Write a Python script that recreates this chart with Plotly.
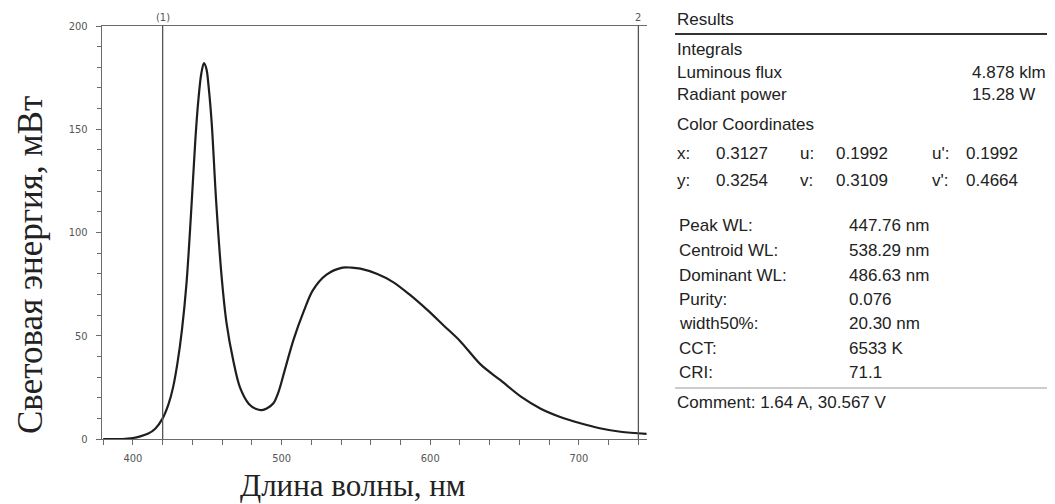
import plotly.graph_objects as go

# ---------------- data ----------------
wavelength_nm = [380, 393, 400, 405, 410, 415, 420, 424, 427, 430, 433, 436, 439, 442, 444, 446,
                 447.8, 449.5, 451, 453, 456, 459.5, 463, 467.5, 472, 478, 483, 486.6, 490, 494.5,
                 498, 502, 508, 515, 521, 530, 541, 547, 553, 564, 575, 586, 598, 609, 620, 634,
                 647, 661, 674, 687, 701, 714, 728, 745.5]
energy_mW = [0, 0, 0.5, 1.3, 2.5, 5, 10, 17, 25, 37, 53, 75, 108, 145, 164, 177,
             182, 179, 170, 153, 115, 80, 56, 38, 25, 17, 14.5, 14, 14.8, 17.3,
             23, 33, 48, 62, 72, 79.5, 83, 83, 82.5, 80, 76, 70, 62.5, 55, 47.5, 36,
             28.6, 20.5, 14.8, 10.8, 7.6, 5.2, 3.5, 2.5]

x_range = [379.2, 745.8]
y_range = [0, 200]
marker_lines_nm = [420, 740]
marker_labels = ["(1)", "2"]

x_title = "Длина волны, нм"
y_title = "Световая энергия, мВт"

results_title = "Results"
integral_header = "Integrals"
integral_labels = ["Luminous flux", "Radiant power"]
integral_values = ["4.878 klm", "15.28 W"]
coord_header = "Color Coordinates"
coord_row1 = ["x:", "0.3127", "u:", "0.1992", "u':", "0.1992"]
coord_row2 = ["y:", "0.3254", "v:", "0.3109", "v':", "0.4664"]
param_labels = ["Peak WL:", "Centroid WL:", "Dominant WL:", "Purity:", "width50%:", "CCT:", "CRI:"]
param_values = ["447.76 nm", "538.29 nm", "486.63 nm", "0.076", "20.30 nm", "6533 K", "71.1"]
comment_text = "Comment: 1.64 A, 30.567 V"

# ---------------- geometry (screen pixels) ----------------
W, H = 1055, 504
BODY = 8  # default page margin around the plot div
PL, PR, PT, PB = 102, 647, 26, 439


def px(x):
    return (x - PL) / (PR - PL)


def py(y):
    return (PB - y) / (PB - PT)


TICK_FONT = dict(family="Liberation Sans Narrow, DejaVu Sans Condensed, Arial Narrow, sans-serif",
                 size=11, color="#555")
PANEL_FONT = dict(family="Liberation Sans, Arial, sans-serif", size=17, color="#222")
SERIF = "Liberation Serif, Times New Roman, serif"
AX = "#6a6a6a"

fig = go.Figure()
fig.add_trace(go.Scatter(x=wavelength_nm, y=energy_mW, mode="lines",
                         line=dict(color="#1e1e1e", width=2.2, shape="spline", smoothing=0.9),
                         hoverinfo="skip", showlegend=False))

for xv in marker_lines_nm:
    fig.add_shape(type="line", xref="x", yref="y", x0=xv, x1=xv, y0=0, y1=200,
                  line=dict(color="#555", width=1.3))

annotations = []
for xv, lab in zip(marker_lines_nm, marker_labels):
    annotations.append(dict(x=xv, y=1, xref="x", yref="paper", text=lab, showarrow=False,
                            xanchor="center", yanchor="bottom", yshift=0, font=TICK_FONT))

# axis titles
annotations.append(dict(x=px(352), y=py(485), xref="paper", yref="paper", text=x_title,
                        showarrow=False, xanchor="center", yanchor="middle",
                        font=dict(family=SERIF, size=31, color="#222")))
annotations.append(dict(x=px(30), y=py(265), xref="paper", yref="paper", text=y_title,
                        showarrow=False, xanchor="center", yanchor="middle", textangle=-90,
                        font=dict(family=SERIF, size=35, color="#222")))


def txt(x, y, s):
    annotations.append(dict(x=px(x), y=py(y), xref="paper", yref="paper", text=s,
                            showarrow=False, xanchor="left", yanchor="middle", font=PANEL_FONT))


LX = 675
txt(LX, 19, results_title)
txt(LX, 49, integral_header)
for lab, val, yy in zip(integral_labels, integral_values, [72, 95]):
    txt(LX, yy, lab)
    txt(970, yy, val)
txt(LX, 124, coord_header)
col_x = [675, 714, 798, 834, 930, 964]
for row, yy in ((coord_row1, 153), (coord_row2, 180)):
    for cx, s in zip(col_x, row):
        txt(cx, yy, s)
row_y = [225, 250, 275, 299, 323, 348, 372]
for lab, val, yy in zip(param_labels, param_values, row_y):
    txt(677, yy, lab)
    txt(847, yy, val)
txt(LX, 402, comment_text)

fig.add_shape(type="line", xref="paper", yref="paper", x0=px(675), x1=px(1055), y0=py(34), y1=py(34),
              line=dict(color="#333", width=2))
fig.add_shape(type="line", xref="paper", yref="paper", x0=px(675), x1=px(1055), y0=py(388), y1=py(388),
              line=dict(color="#999", width=1))

fig.update_layout(
    width=W - BODY, height=H - BODY,
    margin=dict(l=PL - BODY, r=W - PR, t=PT - BODY, b=H - PB, pad=0),
    paper_bgcolor="white", plot_bgcolor="white",
    annotations=annotations,
    showlegend=False,
    xaxis=dict(range=x_range, showgrid=False, zeroline=False, showline=True, linecolor=AX,
               linewidth=1.3, mirror=True, ticks="outside", ticklen=5, tickcolor=AX, tickwidth=1,
               tick0=400, dtick=100, tickfont=TICK_FONT, ticklabelstandoff=4,
               minor=dict(tick0=400, dtick=20, ticks="outside", ticklen=5, tickcolor=AX, showgrid=False)),
    yaxis=dict(range=y_range, showgrid=False, zeroline=False, showline=True, linecolor=AX,
               linewidth=1.3, ticks="outside", ticklen=5, tickcolor=AX, tickwidth=1,
               tick0=0, dtick=50, tickfont=TICK_FONT, ticklabelstandoff=6,
               minor=dict(tick0=0, dtick=10, ticks="outside", ticklen=4, tickcolor=AX, showgrid=False)),
)

fig.write_html("out.html")
